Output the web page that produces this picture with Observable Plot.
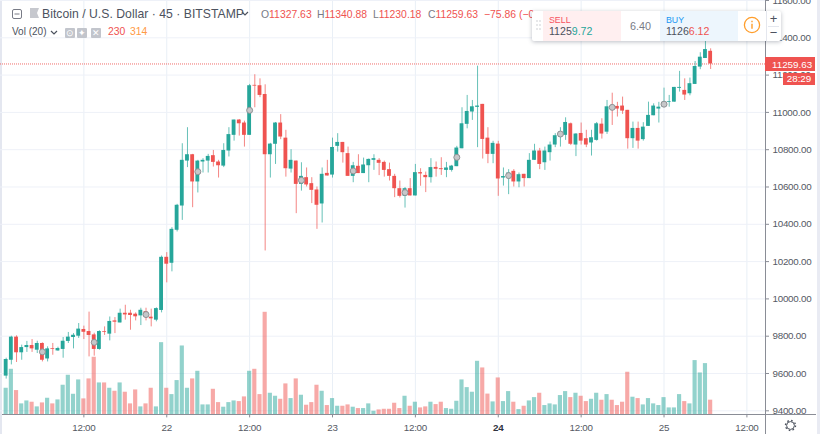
<!DOCTYPE html>
<html>
<head>
<meta charset="utf-8">
<script src="https://cdn.jsdelivr.net/npm/d3@7"></script>
<script src="https://cdn.jsdelivr.net/npm/@observablehq/plot@0.6"></script>
<style>
html,body{margin:0;padding:0;background:#fff;overflow:hidden}
#chart{position:relative;width:820px;height:434px;font-family:"Liberation Sans",Arial,sans-serif;color:#4c525e;overflow:hidden}
#chart svg{position:absolute;left:0;top:0;background:transparent}
#chart svg text{letter-spacing:-.25px}
.abs{position:absolute;white-space:nowrap;line-height:1}
.red{color:#ef5350}.grey{color:#787b86}.teal{color:#26a69a}
.ohlc{font-size:10.4px;top:10px}
.vline{position:absolute;left:765px;top:0;width:1px;height:434px;background:#8a8d96}
.hline{position:absolute;left:2px;top:414px;width:814px;height:1px;background:#8a8d96}
.cover{position:absolute;left:766px;top:415px;width:51px;height:19px;background:#fff}
.lstrip{position:absolute;left:0;top:0;width:2px;height:434px;background:#e4e7f0}
.rstrip{position:absolute;left:817px;top:0;width:3px;height:434px;background:#e9ebf3}
.badge{position:absolute;background:#ef5350;color:#fff;font-size:9.8px;display:flex;align-items:center}
.sq{position:absolute;top:28px;width:10px;height:10px;background:#c2c5cc;border-radius:1px;color:#fff;font-size:9px;line-height:10px;text-align:center}
#widget{position:absolute;left:532px;top:11px;width:249px;height:30px;background:#fff;box-shadow:0 1px 4px rgba(60,70,90,.35);border-radius:2px}
#widget .pane{position:absolute;top:0;height:30px}
</style>
</head>
<body>
<div id="chart"></div>
<script>
const opens = [9586,9671,9795,9711,9739,9750,9725,9761,9678,9734,9721,9729,9772,9793,9800,9836,9825,9807,9729,9825,9811,9882,9871,9923,9923,9918,9909,9932,9902,9886,
9938,10223,10191,10368,10498,10739,10773,10627,10734,10739,10768,10734,10712,10793,10877,10959,10943,10877,11145,11143,11096,10773,10829,10943,10862,10696,10739,10614,10650,10618,
10584,10509,10673,10664,10818,10839,10779,10657,10711,10672,10714,10743,10743,10732,10693,10657,10591,10550,10591,10552,10677,10662,10650,10705,10698,10689,10689,10709,10805,10936,
11002,11027,11043,10862,10775,10830,10648,10653,10684,10627,10668,10645,10743,10793,10730,10784,10825,10868,10877,10939,10825,10887,10859,10836,10850,10937,10894,11032,11032,11034,
11011,10859,10914,10854,10925,10982,11018,11028,11053,11055,11129,11118,11100,11150,11243,11289,11327.63];
const closes = [9675,9795,9711,9739,9750,9732,9761,9671,9732,9730,9734,9773,9795,9805,9838,9821,9804,9729,9825,9821,9879,9875,9923,9914,9911,9904,9939,9904,9893,9948,
10223,10186,10373,10502,10743,10773,10627,10739,10743,10764,10732,10714,10796,10881,10959,10939,10877,11143,11141,11091,10773,10830,10943,10868,10698,10743,10614,10657,10611,10582,
10502,10668,10659,10812,10839,10784,10657,10714,10672,10718,10748,10752,10727,10689,10657,10591,10550,10591,10552,10677,10670,10650,10704,10695,10693,10702,10712,10809,10939,11005,
11030,11034,10855,10775,10834,10643,10656,10675,10627,10666,10645,10743,10793,10721,10793,10825,10875,10894,10946,10829,10884,10846,10825,10864,10939,10884,11030,11018,11018,11007,
10859,10914,10846,10921,10984,11034,11028,11055,11057,11134,11134,11093,11154,11246,11296,11337,11259.63];
const highs = [9682,9800,9802,9752,9772,9782,9773,9764,9743,9761,9741,9793,9820,9814,9868,9854,9929,9816,9829,9850,9903,9900,9945,9966,9939,9925,9950,9950,9945,9952,
10230,10248,10382,10507,10832,10918,10775,10743,10752,10775,10796,10743,10832,10918,10959,10962,10953,11150,11202,11180,11148,10834,10946,10988,10904,10800,10739,10730,10702,10650,
10600,10702,10743,10862,10886,10839,10814,10732,10773,10755,10750,10773,10752,10739,10728,10668,10632,10597,10645,10721,10698,10680,10752,10734,10757,10732,10716,10818,11025,11091,
11064,11248,11043,10918,10845,10845,10702,10693,10693,10675,10668,10779,10829,10807,10814,10841,10886,10918,10971,10943,10886,10943,10904,10904,10946,10966,11064,11103,11054,11082,
11011,10948,10948,10945,11055,11046,11054,11130,11091,11134,11220,11180,11184,11273,11320,11380,11340.88];
const lows = [9570,9646,9659,9671,9713,9713,9707,9662,9662,9698,9719,9682,9761,9732,9788,9782,9689,9693,9725,9804,9775,9814,9871,9886,9832,9882,9857,9882,9850,9877,
9925,10086,10145,10359,10421,10704,10489,10568,10675,10675,10707,10648,10704,10761,10846,10873,10814,10877,11025,11079,10257,10648,10721,10854,10653,10675,10457,10578,10600,10511,
10373,10407,10659,10648,10787,10728,10657,10623,10672,10672,10623,10689,10661,10653,10632,10543,10541,10487,10552,10552,10604,10570,10621,10653,10662,10650,10680,10709,10805,10912,
10957,10811,10750,10725,10725,10550,10605,10559,10600,10596,10600,10645,10743,10693,10689,10739,10811,10814,10850,10822,10763,10825,10811,10766,10846,10857,10882,10930,10975,10989,
10803,10807,10803,10846,10925,10982,10943,11028,11028,11055,11109,11064,11089,11150,11229,11289,11230.18];
const volumes = [416,712,380,172,218,198,125,187,260,172,234,463,619,322,546,250,562,900,499,499,416,369,499,354,172,390,125,172,416,125,
1128,416,317,536,1076,416,562,681,156,156,400,192,120,192,218,208,281,681,712,317,1602,338,291,244,484,255,562,307,151,192,
463,369,146,255,135,135,156,120,99,99,172,57,78,88,88,182,99,291,135,198,109,125,198,161,198,99,88,213,546,426,
354,837,733,325,203,577,208,364,198,83,135,218,270,338,146,172,156,302,364,270,338,291,208,244,338,229,317,229,146,198,
666,276,255,156,255,172,146,270,109,109,317,208,172,848,655,801,230];
const markerIndex = [7,17,27,37,47,57,67,77,87,97,107,117,127];
const markerPrice = [9716,9767,9916,10682,11011,10636,10686,10570,10759,10661,10884,11027,11044];
const priceTicks = [9400,9600,9800,10000,10200,10400,10600,10800,11000,11200,11400,11600];
const timeTickIndex = [15,31,47,63,79,111,127,143];
const timeTickLabels = ["12:00","22","12:00","23","12:00","12:00","25","12:00"];
const boldTickIndex = [95];
const boldTickLabels = ["24"];
const lastPrice = 11259.63;

const GREEN = "#26a69a", RED = "#ef5350";
const VOL_BASE = 9378, VOL_TO_PRICE = 0.3434;
const bars = opens.map((o,i)=>({i,open:o,close:closes[i],high:highs[i],low:lows[i],vol:volumes[i],
  color:closes[i]>=o?GREEN:RED}));
const markers = markerIndex.map((i,k)=>({i,price:markerPrice[k]}));
const gridIndex = [...timeTickIndex,...boldTickIndex];

const plot = Plot.plot({
  width:820, height:434,
  marginTop:0, marginLeft:0, marginRight:55, marginBottom:19.6,
  style:{background:"transparent",fontFamily:"'Liberation Sans',Arial,sans-serif",color:"#4c525e",overflow:"visible"},
  x:{domain:[-1.095,146.59],axis:null},
  y:{domain:[11600,9378],range:[0,414.4],axis:null},
  marks:[
    Plot.gridX(gridIndex,{x:d=>d,stroke:"#e9eff6",strokeOpacity:1}),
    Plot.gridY(priceTicks,{y:d=>d,stroke:"#eef1f8",strokeOpacity:1}),
    Plot.rect(bars,{x1:d=>d.i-.4,x2:d=>d.i+.4,y1:()=>VOL_BASE,y2:d=>VOL_BASE+d.vol*VOL_TO_PRICE,fill:"color",fillOpacity:.5,inset:0}),
    Plot.ruleY([lastPrice],{stroke:RED,strokeWidth:1,strokeDasharray:"1 1",strokeOpacity:.85}),
    Plot.ruleX(bars,{x:"i",y1:"low",y2:"high",stroke:"color",strokeWidth:1,strokeOpacity:.7}),
    Plot.rect(bars,{x1:d=>d.i-.37,x2:d=>d.i+.37,y1:d=>Math.min(d.open,d.close),y2:d=>Math.max(d.open,d.close),fill:"color",inset:0}),
    Plot.dot(markers,{x:"i",y:"price",r:3,fill:"#c6c7c9",stroke:"#8f9194",strokeWidth:1}),
    Plot.axisY(priceTicks,{anchor:"right",tickFormat:d3.format(".2f"),tickSize:3,tickPadding:4,stroke:"#8a8d96",label:null,fill:"#555964",fontSize:9.8}),
    Plot.axisX(timeTickIndex,{anchor:"bottom",tickFormat:d=>timeTickLabels[timeTickIndex.indexOf(d)],tickSize:3,tickPadding:6,stroke:"#8a8d96",label:null,fill:"#555964",fontSize:9.8}),
    Plot.axisX(boldTickIndex,{anchor:"bottom",tickFormat:d=>boldTickLabels[boldTickIndex.indexOf(d)],tickSize:3,tickPadding:6,stroke:"#8a8d96",label:null,fill:"#2f3340",fontWeight:"bold",fontSize:9.8})
  ]
});

const chart = document.getElementById("chart");
chart.innerHTML = '<div class="lstrip"></div><div class="rstrip"></div>';
chart.appendChild(plot);
const priceY = plot.scale("y").apply(lastPrice);
chart.insertAdjacentHTML("beforeend",`
<div class="cover"></div><div class="vline"></div><div class="hline"></div>
<div class="badge" style="left:765px;top:${priceY-6.3}px;width:43px;height:14px;padding-left:7px">11259.63</div>
<div class="badge" style="left:783px;top:${priceY+9.5}px;width:32px;height:12px;justify-content:center">28:29</div>
<svg style="left:12px;top:9px" width="10" height="10"><rect x=".5" y=".5" width="9" height="9" rx="1.5" fill="none" stroke="#787b86"/><path d="M2.5 5h5" stroke="#787b86"/></svg>
<svg style="left:30px;top:8px" width="9" height="10"><path d="M0 0h9l-2 5 2 5h-9z" fill="#c6c8ce"/></svg>
<div class="abs" style="left:42px;top:8px;font-size:12.2px;letter-spacing:.03px">Bitcoin / U.S. Dollar · 45 · BITSTAMP</div>
<svg style="left:241px;top:11px" width="8" height="6"><path d="M1 1l3 3 3-3" fill="none" stroke="#4c525e" stroke-width="1.2"/></svg>
<div class="abs ohlc" style="left:261px"><span class="grey">O</span><span class="red">11327.63</span></div>
<div class="abs ohlc" style="left:317px"><span class="grey">H</span><span class="red">11340.88</span></div>
<div class="abs ohlc" style="left:373px"><span class="grey">L</span><span class="red">11230.18</span></div>
<div class="abs ohlc" style="left:428px"><span class="grey">C</span><span class="red">11259.63</span></div>
<div class="abs ohlc red" style="left:484px">−75.86 (−0</div>
<div class="abs" style="left:12px;top:27px;font-size:10px">Vol (20)</div>
<svg style="left:50px;top:30px" width="8" height="6"><path d="M1 1l3 3 3-3" fill="none" stroke="#4c525e" stroke-width="1.2"/></svg>
<div class="sq" style="left:65px">⊙</div><div class="sq" style="left:77px">✦</div><div class="sq" style="left:91px">✕</div>
<div class="abs" style="left:108px;top:27px;font-size:10.4px;color:#ef5350">230</div>
<div class="abs" style="left:130px;top:27px;font-size:10.4px;color:#ff9a45">314</div>
<div id="widget">
  <div class="pane" style="left:11px;width:78px;background:#ffeff0"></div>
  <div class="pane" style="left:128px;width:78px;background:#edf6fd"></div>
  <svg class="abs" style="left:4px;top:9px" width="6" height="12"><g fill="#c8cad0"><circle cx="1" cy="1" r=".8"/><circle cx="4" cy="1" r=".8"/><circle cx="1" cy="5" r=".8"/><circle cx="4" cy="5" r=".8"/><circle cx="1" cy="9" r=".8"/><circle cx="4" cy="9" r=".8"/></g></svg>
  <div class="abs" style="left:17px;top:5px;font-size:8.8px;color:#f7525f">SELL</div>
  <div class="abs" style="left:17px;top:15px;font-size:10.6px;color:#4c525e">1125<span class="teal">9.72</span></div>
  <div class="abs" style="left:89px;width:39px;top:10px;text-align:center;font-size:10.8px;color:#787b86">6.40</div>
  <div class="abs" style="left:134px;top:5px;font-size:8.8px;color:#2196f3">BUY</div>
  <div class="abs" style="left:134px;top:15px;font-size:10.6px;color:#4c525e">1126<span class="red">6.12</span></div>
  <svg class="abs" style="left:211px;top:5px" width="18" height="18"><circle cx="9" cy="9" r="7.6" fill="none" stroke="#ff9e2c" stroke-width="1.3"/><path d="M9 7.8v5M9 4.8v1.4" stroke="#ff9e2c" stroke-width="1.4"/></svg>
  <div class="pane" style="left:234px;width:1px;background:#e4e7ee"></div>
  <div class="abs" style="left:234px;width:15px;top:1px;text-align:center;font-size:13px;color:#4c525e">+</div>
  <div class="abs" style="left:236px;width:11px;top:15px;height:1px;background:#e4e7ee"></div>
  <div class="abs" style="left:234px;width:15px;top:15px;text-align:center;font-size:13px;color:#4c525e">−</div>
</div>
<svg style="left:784px;top:419px" width="13" height="13"><circle cx="6.5" cy="6.5" r="3.9" fill="none" stroke="#4c525e" stroke-width="1"/><circle cx="6.5" cy="6.5" r="5" fill="none" stroke="#4c525e" stroke-width="1.4" stroke-dasharray="1.6 2.33"/></svg>
`);
</script>
</body>
</html>
